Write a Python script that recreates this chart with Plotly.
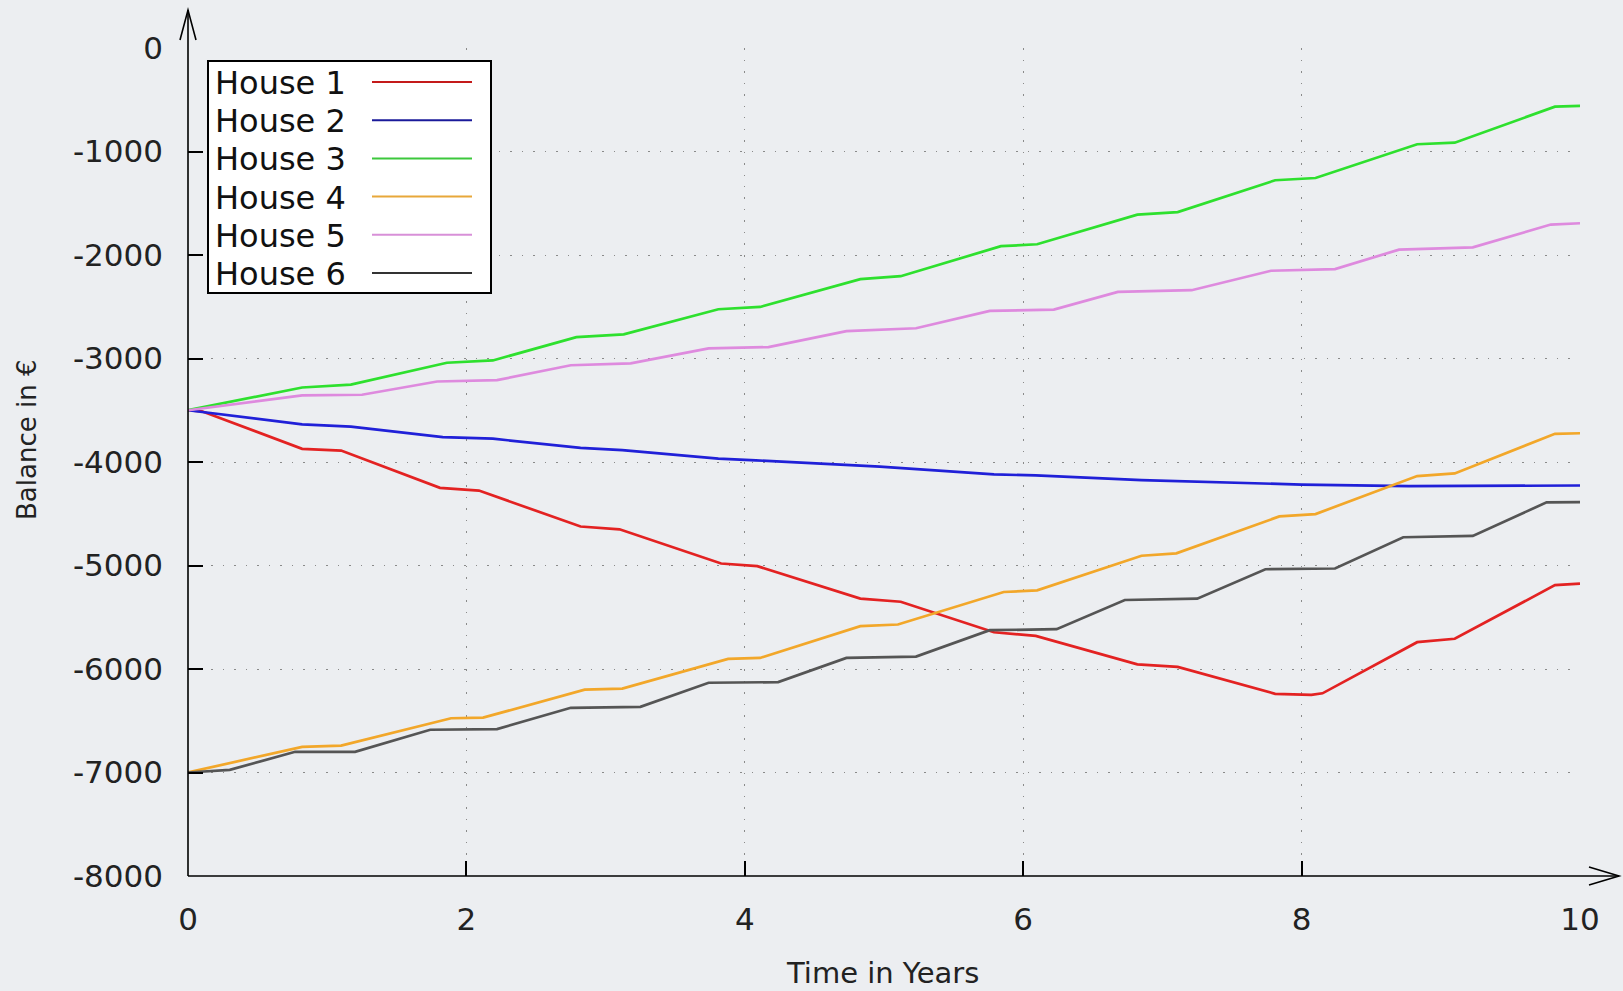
import plotly.graph_objects as go

# ---------------- data ----------------
house1_t = [0, 0.1, 0.82, 1.10, 1.81, 2.09, 2.82, 3.10, 3.83, 4.09, 4.83, 5.12, 5.79, 6.09,
            6.82, 7.11, 7.81, 8.07, 8.15, 8.83, 9.10, 9.82, 10]
house1_v = [-3500, -3510, -3873, -3890, -4250, -4276, -4623, -4650, -4981, -5006, -5320, -5350,
            -5645, -5680, -5955, -5980, -6240, -6250, -6235, -5741, -5708, -5190, -5175]

house2_t = [0, 0.82, 1.17, 1.83, 2.19, 2.82, 3.12, 3.81, 4.08, 4.97, 5.79, 6.09, 6.85, 7.28,
            8.0, 8.77, 10]
house2_v = [-3500, -3636, -3658, -3760, -3775, -3864, -3886, -3968, -3984, -4045, -4120, -4130,
            -4175, -4192, -4218, -4234, -4227]

house3_t = [0, 0.82, 1.17, 1.86, 2.19, 2.79, 3.13, 3.81, 4.11, 4.83, 5.12, 5.84, 6.10, 6.82,
            7.11, 7.81, 8.10, 8.83, 9.10, 9.82, 10]
house3_v = [-3500, -3280, -3253, -3041, -3019, -2793, -2767, -2524, -2502, -2233, -2205, -1915,
            -1896, -1610, -1585, -1278, -1256, -930, -915, -567, -560]

house4_t = [0, 0.82, 1.10, 1.89, 2.12, 2.85, 3.12, 3.88, 4.11, 4.83, 5.10, 5.86, 6.10, 6.85,
            7.10, 7.84, 8.10, 8.83, 9.10, 9.82, 10]
house4_v = [-7000, -6752, -6740, -6476, -6470, -6200, -6190, -5903, -5893, -5586, -5570, -5256,
            -5240, -4906, -4883, -4526, -4503, -4136, -4110, -3728, -3722]

house5_t = [0, 0.82, 1.25, 1.79, 2.22, 2.75, 3.18, 3.74, 4.17, 4.73, 5.23, 5.76, 6.22, 6.68,
            7.21, 7.78, 8.24, 8.70, 9.23, 9.79, 10]
house5_v = [-3500, -3357, -3350, -3222, -3209, -3065, -3047, -2903, -2890, -2735, -2708, -2540,
            -2527, -2356, -2340, -2152, -2136, -1948, -1926, -1706, -1693]

house6_t = [0, 0.3, 0.77, 1.20, 1.74, 2.22, 2.75, 3.25, 3.74, 4.24, 4.73, 5.23, 5.76, 6.24,
            6.73, 7.25, 7.74, 8.24, 8.73, 9.23, 9.76, 10]
house6_v = [-7000, -6975, -6800, -6800, -6587, -6581, -6375, -6365, -6133, -6127, -5893, -5880,
            -5625, -5615, -5333, -5320, -5036, -5029, -4727, -4714, -4390, -4387]

series_names = ["House 1", "House 2", "House 3", "House 4", "House 5", "House 6"]
x_ticks = [0, 2, 4, 6, 8, 10]
y_ticks = [0, -1000, -2000, -3000, -4000, -5000, -6000, -7000, -8000]

x_title = "Time in Years"
y_title = "Balance in €"

# ---------------- styling ----------------
colors = ["#e32222", "#2020d8", "#2ee02e", "#f2a72a", "#de8ade", "#555555"]
legend_colors = ["#c41a1a", "#1a1a9a", "#3cc83c", "#e8a83a", "#d890d8", "#333333"]
FONT = "DejaVu Sans"
BG = "#eceef1"

W, H = 1623, 991
ML, MR, MT, MB = 188, 43, 48, 115
PW, PH = W - ML - MR, H - MT - MB


def px(xp):
    return (xp - ML) / PW


def py(yp):
    return (H - MB - yp) / PH


all_t = [house1_t, house2_t, house3_t, house4_t, house5_t, house6_t]
all_v = [house1_v, house2_v, house3_v, house4_v, house5_v, house6_v]

fig = go.Figure()
for name, t, v, c in zip(series_names, all_t, all_v, colors):
    fig.add_trace(go.Scatter(x=t, y=v, mode="lines", name=name,
                             line=dict(color=c, width=2.7), showlegend=False))

shapes = []
line_black = dict(color="black", width=1.6)
# axis lines with arrows
shapes.append(dict(type="line", xref="paper", yref="paper", x0=px(188), x1=px(188),
                   y0=py(876), y1=py(10), line=line_black))
shapes.append(dict(type="path", xref="paper", yref="paper",
                   path=f"M {px(180)} {py(40)} L {px(188)} {py(10)} L {px(196)} {py(40)}",
                   line=line_black))
shapes.append(dict(type="line", xref="paper", yref="paper", x0=px(188), x1=px(1619),
                   y0=py(876), y1=py(876), line=line_black))
shapes.append(dict(type="path", xref="paper", yref="paper",
                   path=f"M {px(1589)} {py(867)} L {px(1619)} {py(876)} L {px(1589)} {py(885)}",
                   line=line_black))

# legend box (gnuplot style: text left, sample right)
shapes.append(dict(type="rect", xref="paper", yref="paper", x0=px(208), x1=px(491),
                   y0=py(293), y1=py(61), fillcolor="white",
                   line=dict(color="black", width=2)))
annotations = []
row_y0, row_dy = 82, 38.2
for i, (name, c) in enumerate(zip(series_names, legend_colors)):
    yy = row_y0 + i * row_dy
    shapes.append(dict(type="line", xref="paper", yref="paper", x0=px(372), x1=px(472),
                       y0=py(yy), y1=py(yy), line=dict(color=c, width=2)))
    annotations.append(dict(xref="paper", yref="paper", x=px(213), y=py(yy + 1),
                            xanchor="left", yanchor="middle", text=name, showarrow=False,
                            font=dict(family=FONT, size=32, color="#111")))

annotations.append(dict(xref="paper", yref="paper", x=px(27), y=py(440), text=y_title,
                        textangle=-90, showarrow=False, xanchor="center", yanchor="middle",
                        font=dict(family=FONT, size=26, color="#222")))
annotations.append(dict(xref="paper", yref="paper", x=px(882), y=py(973), text=x_title,
                        showarrow=False, xanchor="center", yanchor="middle",
                        font=dict(family=FONT, size=29, color="#222")))

axis_common = dict(showline=False, zeroline=False, ticks="inside", ticklen=15,
                   tickwidth=1.5, tickcolor="black", showgrid=True, gridcolor="#8a8a8a",
                   gridwidth=1, griddash="1.5px,10px",
                   tickfont=dict(family=FONT, size=31, color="#222"))

fig.update_layout(
    width=W, height=H, autosize=False,
    margin=dict(l=ML, r=MR, t=MT, b=MB),
    paper_bgcolor=BG, plot_bgcolor=BG,
    shapes=shapes, annotations=annotations,
    xaxis=dict(range=[0, 10], tickvals=x_ticks, ticktext=[str(v) for v in x_ticks],
               ticklabelstandoff=22, **axis_common),
    yaxis=dict(range=[-8000, 0], tickvals=y_ticks, ticktext=[str(v) for v in y_ticks],
               ticklabelstandoff=24, **axis_common),
)

fig.write_html("out.html", config={"displayModeBar": False})

# remove the default page margin so the figure fills the window exactly
with open("out.html", "r", encoding="utf-8") as f:
    html = f.read()
html = html.replace("<head>", "<head><style>html,body{margin:0;padding:0;overflow:hidden;"
                    "background:" + BG + ";}</style>", 1)
with open("out.html", "w", encoding="utf-8") as f:
    f.write(html)
